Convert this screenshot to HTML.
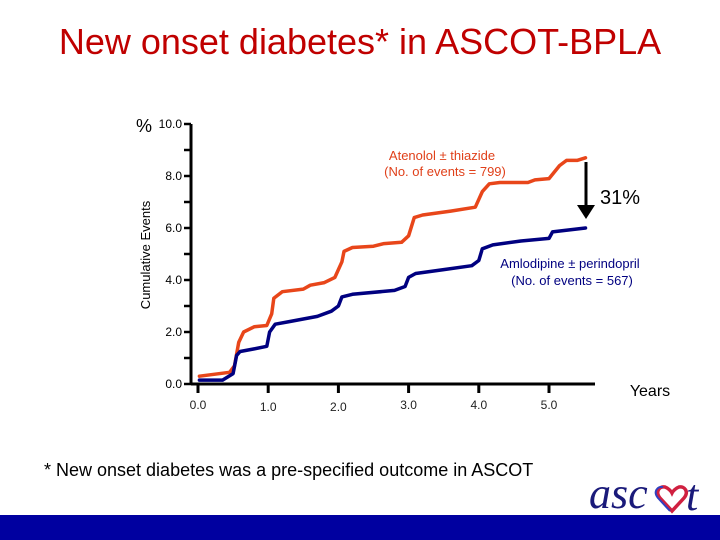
<!DOCTYPE html>
<html><head><meta charset="utf-8"><style>
body{margin:0;width:720px;height:540px;background:#fff;overflow:hidden;position:relative;font-family:"Liberation Sans",sans-serif}
.t{position:absolute}
</style></head><body>
<div class="t" style="left:0;width:720px;top:21px;text-align:center;font-size:36px;color:#c00000;">New onset diabetes* in ASCOT-BPLA</div>
<svg class="t" style="left:0;top:0" width="720" height="540">
<g id="axes"></g>
<g id="series"></g>
<text x="136" y="132" font-size="18">%</text>
<text transform="translate(150,255) rotate(-90)" text-anchor="middle" font-size="13">Cumulative Events</text>
<text x="650" y="396" text-anchor="middle" font-size="16">Years</text>
<text x="442" y="160" text-anchor="middle" font-size="13" fill="#e0401a">Atenolol ± thiazide</text>
<text x="445" y="176" text-anchor="middle" font-size="13" fill="#e0401a">(No. of events = 799)</text>
<text x="570" y="268" text-anchor="middle" font-size="13" fill="#000080">Amlodipine ± perindopril</text>
<text x="572" y="285" text-anchor="middle" font-size="13" fill="#000080">(No. of events = 567)</text>
<text x="600" y="204" font-size="20">31%</text>
<line id="arrow" x1="586" y1="162" x2="586" y2="205" stroke="#000" stroke-width="3"/>
<polygon points="577,205 595,205 586,219" fill="#000"/>
<g>
<path d="M672,511 L660,498 C655,492 659,486 665,487 C668,488 671,491 672,493 C673,491 676,488 679,487 C685,486 689,492 684,498 Z" fill="none" stroke="#d02040" stroke-width="3.5"/>
<path d="M670,511 L658,498 C653,492 657,486 663,487" fill="none" stroke="#3040c0" stroke-width="2"/>
</g>
<text x="686" y="510" font-family="Liberation Serif,serif" font-style="italic" font-size="44" fill="#1a1a7a">t</text>
</svg>
<div class="t" style="left:44px;top:460px;font-size:18px;">* New onset diabetes was a pre-specified outcome in ASCOT</div>
<div class="t" style="left:589px;top:472px;font-family:'Liberation Serif',serif;font-style:italic;font-size:44px;color:#1a1a7a;line-height:44px">asc</div>
<div class="t" style="left:0;top:515px;width:720px;height:25px;background:#0000a0"></div>
<script>
const yTicks=[0,2,4,6,8,10];
const yLabels=["0.0","2.0","4.0","6.0","8.0","10.0"];
const xTicks=[0,1,2,3,4,5];
const xLabels=["0.0","1.0","2.0","3.0","4.0","5.0"];
const atenololYears=[0.02,0.45,0.52,0.58,0.65,0.8,0.98,1.05,1.08,1.2,1.5,1.6,1.8,1.95,2.05,2.08,2.2,2.5,2.65,2.9,3.0,3.08,3.2,3.6,3.95,4.05,4.15,4.3,4.7,4.8,5.0,5.15,5.25,5.4,5.52];
const atenololVals=[0.3,0.45,0.7,1.6,2.0,2.2,2.25,2.7,3.3,3.55,3.65,3.8,3.9,4.1,4.7,5.1,5.25,5.3,5.4,5.45,5.7,6.4,6.5,6.65,6.8,7.4,7.7,7.75,7.75,7.85,7.9,8.4,8.6,8.6,8.7];
const amloYears=[0.02,0.35,0.5,0.55,0.6,0.8,0.98,1.02,1.1,1.3,1.7,1.9,2.0,2.05,2.2,2.8,2.95,3.0,3.1,3.5,3.9,4.0,4.05,4.2,4.6,5.0,5.05,5.2,5.52];
const amloVals=[0.15,0.15,0.4,1.1,1.25,1.35,1.45,2.0,2.3,2.4,2.6,2.8,3.0,3.35,3.45,3.6,3.75,4.1,4.25,4.4,4.55,4.75,5.2,5.35,5.5,5.6,5.85,5.9,6.0];
const NS="http://www.w3.org/2000/svg";
const X=v=>198+v*70.2, Y=v=>384-v*26;
function mk(tag,attrs,parent){const e=document.createElementNS(NS,tag);for(const k in attrs)e.setAttribute(k,attrs[k]);parent.appendChild(e);return e;}
const ax=document.getElementById('axes');
let l=mk('line',{x1:191,y1:Y(10),x2:191,y2:384,stroke:'#000','stroke-width':3},ax);


l=mk('line',{x1:191,y1:384,x2:595,y2:384,stroke:'#000','stroke-width':3},ax);


for(let v=0;v<=10;v++){const t=mk('line',{x1:184,y1:Y(v),x2:191,y2:Y(v),stroke:'#000','stroke-width':2.5},ax);

}
yTicks.forEach((v,i)=>{const t=mk('text',{x:182,y:Y(v)+4,'text-anchor':'end','font-size':12},ax);t.textContent=yLabels[i];

});
xTicks.forEach((v,i)=>{const t=mk('line',{x1:X(v),y1:384,x2:X(v),y2:393,stroke:'#000','stroke-width':3},ax);


const s=mk('text',{x:X(v),y:409+(i==1||i==2?2:0),'text-anchor':'middle','font-size':12,fill:'#222'},ax);s.textContent=xLabels[i];

});
const se=document.getElementById('series');
function line(xs,ys,c,n){const p=mk('polyline',{points:xs.map((x,i)=>X(x)+','+Y(ys[i])).join(' '),fill:'none',stroke:c,'stroke-width':3.5,'stroke-linejoin':'round','stroke-linecap':'round'},se);

}
line(atenololYears,atenololVals,'#e8461a','atenolol-line');
line(amloYears,amloVals,'#000080','amlodipine-line');
</script>
</body></html>
